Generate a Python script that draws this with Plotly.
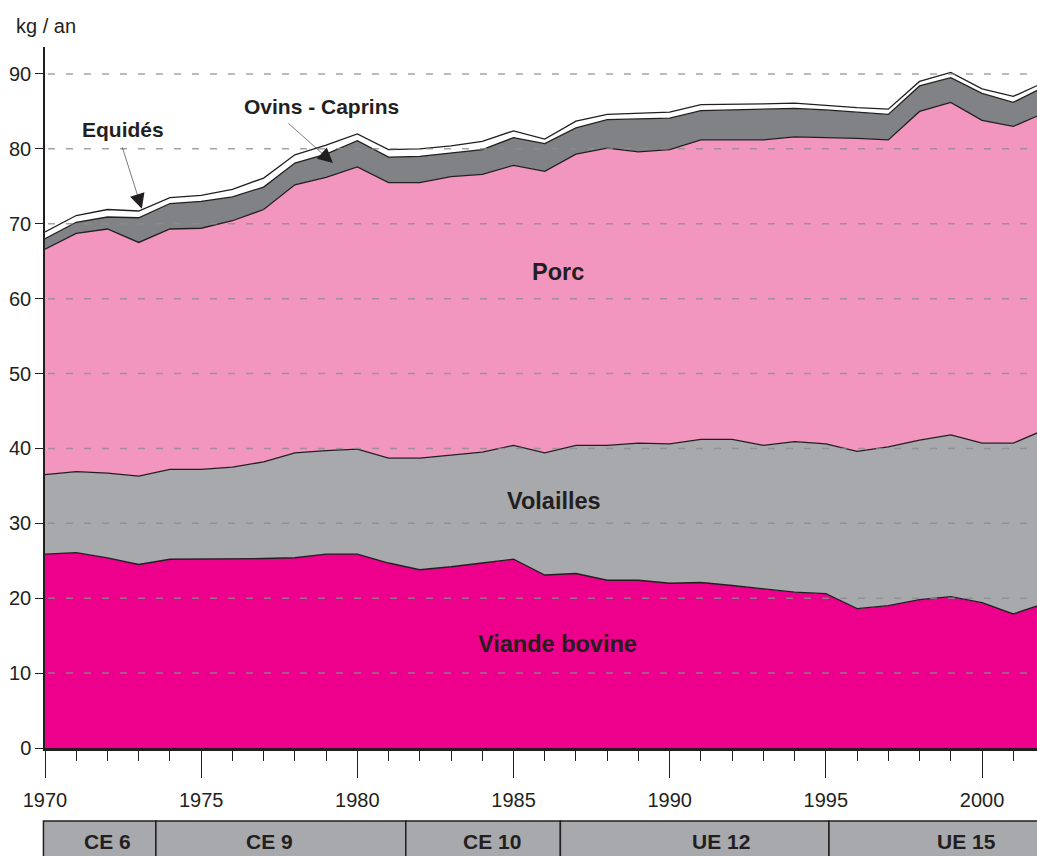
import plotly.graph_objects as go

# ---------------- data (kg / an per inhabitant) ----------------
years = list(range(1970, 2003))

viande_bovine = [25.9, 26.1, 25.4, 24.5, 25.2, 25.2, 25.2, 25.3, 25.4, 25.9, 25.9,
                 24.7, 23.8, 24.2, 24.7, 25.2, 23.1, 23.3, 22.4, 22.4, 22.0, 22.1,
                 21.7, 21.3, 20.8, 20.6, 18.6, 19.0, 19.8, 20.2, 19.4, 17.9, 19.3]
volailles = [10.6, 10.8, 11.3, 11.8, 12.0, 12.0, 12.3, 12.9, 14.0, 13.8, 14.0,
             14.0, 14.9, 14.9, 14.8, 15.2, 16.3, 17.1, 18.0, 18.3, 18.6, 19.1,
             19.5, 19.1, 20.1, 20.0, 21.0, 21.2, 21.3, 21.6, 21.3, 22.8, 23.2]
porc = [30.1, 31.8, 32.6, 31.2, 32.1, 32.2, 32.9, 33.7, 35.8, 36.5, 37.7,
        36.8, 36.8, 37.2, 37.1, 37.4, 37.6, 38.9, 39.7, 38.9, 39.3, 40.0,
        40.0, 40.8, 40.7, 40.9, 41.8, 41.0, 43.9, 44.4, 43.1, 42.3, 42.3]
ovins_caprins = [1.4, 1.5, 1.6, 3.3, 3.4, 3.6, 3.2, 3.0, 2.9, 3.1, 3.5,
                 3.4, 3.5, 3.2, 3.3, 3.7, 3.7, 3.5, 3.8, 4.4, 4.2, 3.9,
                 4.0, 4.1, 3.8, 3.7, 3.5, 3.4, 3.4, 3.3, 3.6, 3.2, 3.5]
equides = [0.9, 0.9, 1.0, 0.9, 0.8, 0.8, 1.0, 1.2, 1.1, 1.2, 0.9,
           1.0, 1.0, 0.9, 1.1, 0.9, 0.6, 0.9, 0.7, 0.7, 0.8, 0.8,
           0.7, 0.7, 0.7, 0.6, 0.6, 0.7, 0.6, 0.7, 0.6, 0.8, 0.6]

series_names = ["Viande bovine", "Volailles", "Porc", "Ovins - Caprins", "Equidés"]
y_ticks = list(range(0, 100, 10))
x_tick_labels = [1970, 1975, 1980, 1985, 1990, 1995, 2000]

# EU enlargement periods
periods = ["CE 6", "CE 9", "CE 10", "UE 12", "UE 15"]
period_bounds = [1969.95, 1973.55, 1981.55, 1986.5, 1995.1, 2003.0]
period_label_x = [1972.0, 1977.2, 1984.3, 1991.65, 1999.5]

# ---------------- style ----------------
INK = "#231f20"
FONT = "Liberation Sans, Arial, Helvetica, sans-serif"
colors = ["#ec008c", "#a7a9ac", "#f396bf", "#808285", "#ffffff"]
X_RANGE = [1970, 2001.76]
Y_RANGE = [0, 93.6]

fig = go.Figure()
values = [viande_bovine, volailles, porc, ovins_caprins, equides]
for name, vals, col in zip(series_names, values, colors):
    fig.add_trace(go.Scatter(
        x=years, y=vals, name=name, stackgroup="meat", mode="lines",
        line=dict(color=INK, width=1.3, shape="linear"),
        fillcolor=col, hoverinfo="x+y+name",
    ))

def xpaper(yr):
    return (yr - X_RANGE[0]) / (X_RANGE[1] - X_RANGE[0])

shapes = []
# dashed gridlines drawn above the areas
for v in y_ticks[1:]:
    shapes.append(dict(type="line", xref="paper", yref="y", x0=0.003, x1=1, y0=v, y1=v,
                       layer="above",
                       line=dict(color="rgba(140,140,140,0.8)", width=1.5, dash="7px,11px")))

# enlargement band under the axis
BAND_TOP = -0.104
BAND_BOT = -0.25
for i, lab in enumerate(periods):
    shapes.append(dict(type="rect", xref="paper", yref="paper",
                       x0=xpaper(period_bounds[i]), x1=xpaper(period_bounds[i + 1]),
                       y0=BAND_BOT, y1=BAND_TOP, layer="above",
                       fillcolor="#a7a9ac", line=dict(color=INK, width=1.5)))

annotations = []
for i, lab in enumerate(periods):
    annotations.append(dict(text="<b>%s</b>" % lab, xref="paper", yref="paper",
                            x=xpaper(period_label_x[i]), y=-0.134, showarrow=False,
                            xanchor="center", yanchor="middle",
                            font=dict(family=FONT, size=21, color=INK)))

# axis unit
annotations.append(dict(text="kg / an", xref="paper", yref="paper", x=-0.031, y=1.03,
                        xanchor="left", yanchor="middle", showarrow=False,
                        font=dict(family=FONT, size=20, color=INK)))

# series labels inside areas
for txt, x, y in [("Porc", 1986.43, 63.5), ("Volailles", 1986.3, 33.0),
                  ("Viande bovine", 1986.4, 13.9)]:
    annotations.append(dict(text="<b>%s</b>" % txt, x=x, y=y, xref="x", yref="y",
                            showarrow=False, xanchor="center", yanchor="middle",
                            font=dict(family=FONT, size=23.5, color=INK)))

# small series labels with arrows
annotations.append(dict(text="<b>Equidés</b>", x=1972.51, y=82.6, xref="x", yref="y",
                        showarrow=False, xanchor="center", yanchor="middle",
                        font=dict(family=FONT, size=21, color=INK)))
annotations.append(dict(text="<b>Ovins - Caprins</b>", x=1978.84, y=85.6, xref="x", yref="y",
                        showarrow=False, xanchor="center", yanchor="middle",
                        font=dict(family=FONT, size=21, color=INK)))
annotations.append(dict(text="", x=1973.1, y=72.0, xref="x", yref="y", showarrow=True,
                        ax=-20, ay=-63, arrowhead=2, arrowsize=5, arrowwidth=0.6,
                        arrowcolor=INK, standoff=0))
annotations.append(dict(text="", x=1979.22, y=78.1, xref="x", yref="y", showarrow=True,
                        ax=-46, ay=-41, arrowhead=2, arrowsize=5, arrowwidth=0.6,
                        arrowcolor=INK, standoff=0))

fig.update_layout(
    width=1037, height=856, autosize=False,
    margin=dict(l=45, r=0, t=47, b=108, pad=0),
    paper_bgcolor="white", plot_bgcolor="white",
    showlegend=False,
    font=dict(family=FONT, size=20, color=INK),
    shapes=shapes, annotations=annotations,
    xaxis=dict(
        range=X_RANGE, showgrid=False, zeroline=False, automargin=False,
        showline=True, linecolor=INK, linewidth=2.5,
        tickmode="array", tickvals=x_tick_labels, ticktext=[str(v) for v in x_tick_labels],
        ticks="outside", ticklen=27, tickwidth=1.3, tickcolor=INK,
        ticklabelstandoff=5,
        minor=dict(dtick=1, tick0=1970, ticks="outside", ticklen=10, tickwidth=1.3,
                   tickcolor=INK, showgrid=False),
        tickfont=dict(family=FONT, size=20, color=INK),
        layer="above traces",
    ),
    yaxis=dict(
        range=Y_RANGE, showgrid=False, zeroline=False, automargin=False,
        showline=True, linecolor=INK, linewidth=1.5,
        tickmode="array", tickvals=y_ticks,
        ticks="outside", ticklen=8, tickwidth=1.3, tickcolor=INK,
        tickfont=dict(family=FONT, size=20, color=INK),
        layer="above traces",
    ),
)

fig.write_html("out.html",
               config={"displayModeBar": False},
               post_script="document.body.style.margin='0px';document.body.style.padding='0px';")
